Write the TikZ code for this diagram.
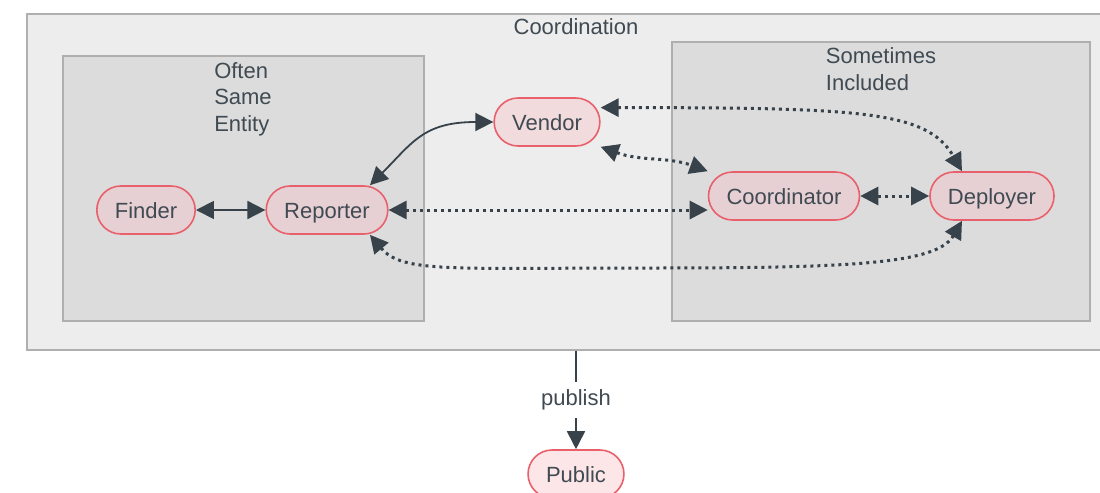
\documentclass[tikz,border=0pt]{standalone}
\usepackage{fontspec}
\setmainfont{Liberation Sans}
\usetikzlibrary{arrows.meta}
\definecolor{boxline}{HTML}{AFAFAF}
\definecolor{outerfill}{HTML}{EDEDED}
\definecolor{innerfill}{HTML}{DCDCDC}
\definecolor{nodeline}{HTML}{E8606C}
\definecolor{nodefill}{HTML}{F8C0C6}
\definecolor{edge}{HTML}{37424A}
\definecolor{txt}{HTML}{3F4A52}

\begin{document}
\begin{tikzpicture}[x=0.5pt,y=-0.5pt,
	font=\fontsize{11}{13.25}\selectfont,text=txt,
	>={Triangle[length=9pt,width=9pt]},
	cluster/.style={draw=boxline,line width=0.8pt,inner sep=0pt},
	actor/.style={draw=nodeline,line width=0.8pt,fill=nodefill,fill opacity=0.4,text opacity=1,
		rounded corners=12pt,minimum height=24pt,inner xsep=9pt,text height=8pt,text depth=0pt},
	link/.style={<->,draw=edge,line width=0.9pt},
	dots/.style={link,line width=1.5pt,dash pattern=on 1.5pt off 2pt}]
			\useasboundingbox (0,0) rectangle (1100,493);
			% groups
			\node[cluster,fill=outerfill,minimum width=549pt,minimum height=168pt](crd) at (576,182) {};
			\node(crdt) at (576,27) {Coordination};
			\node[cluster,fill=innerfill,minimum width=180.5pt,minimum height=132.5pt](same) at (243.5,188.5) {};
			\node[align=left](samet) at (243,99) {Often\\Same\\Entity};
			\node[cluster,fill=innerfill,minimum width=209pt,minimum height=139.5pt](incl) at (881,181.5) {};
			\node[align=left](inclt) at (881,69) {Sometimes\\Included};
			% roles
			\node[actor](fin) at (146,210) {Finder};
			\node[actor](rep) at (327,210) {Reporter};
			\node[actor](ven) at (547,122) {Vendor};
			\node[actor](coo) at (784,196) {Coordinator};
			\node[actor](dep) at (992,196) {Deployer};
			\node[actor](pub) at (576,474) {Public};
			\coordinate(low) at (650,268);
			% links
			\draw[link] (fin)--(rep);
			\draw[link] (ven) to[out=180,in=45,out distance=35pt,in distance=30pt] (rep.30);
			\draw[dots] (ven.15) to[out=0,in=120,out distance=130pt,in distance=35pt] ([xshift=-15pt]dep.north);
			\draw[dots] (ven.south east) to[out=-20,in=160] (coo.north west);
			\draw[dots] (rep)--(rep -| coo.west);
			\draw[dots] (coo)--(dep);
			\draw[dots] (rep.-30) to[out=-50,in=180,out distance=25pt,in distance=100pt] (low)
				to[out=0,in=-120,out distance=100pt,in distance=25pt] ([xshift=-15pt]dep.south);
			\draw[->,draw=edge,line width=0.9pt] (crd.south)--node[fill=white,inner ysep=4pt]{publish} (pub);
		\end{tikzpicture}
\end{document}
